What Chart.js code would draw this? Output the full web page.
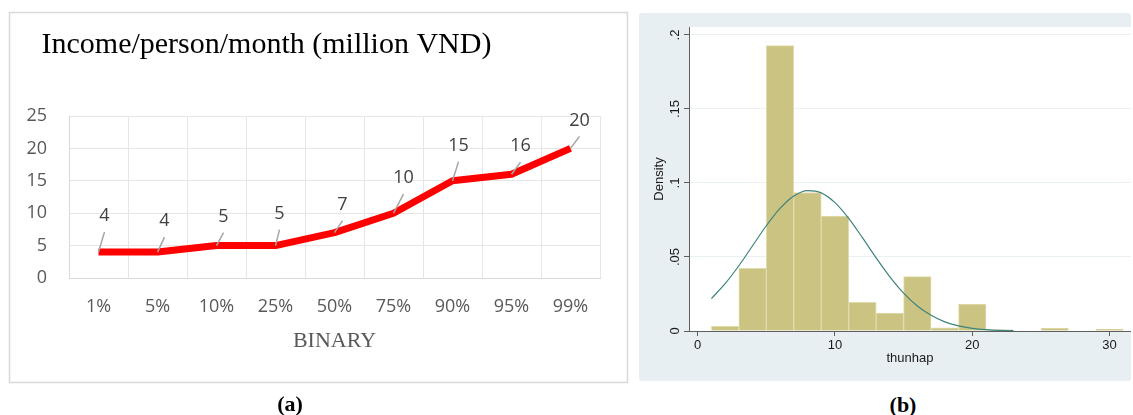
<!DOCTYPE html>
<html>
<head>
<meta charset="utf-8">
<script src="https://cdn.jsdelivr.net/npm/chart.js@4.4.1/dist/chart.umd.min.js"></script>
<style>
  html, body { margin: 0; padding: 0; background: #fff; width: 1133px; height: 415px; overflow: hidden; }
  #wrapA { position: absolute; left: 0; top: 0; width: 634px; height: 415px; }
  #wrapB { position: absolute; left: 639px; top: 13px; width: 492px; height: 368px; background: #e8eff2; border-radius: 3px; }
  .cap { position: absolute; font-family: "Liberation Serif", "Times New Roman", serif; font-weight: bold;
         font-size: 22px; color: #000; transform: translate(-50%, -50%); white-space: nowrap; }
</style>
</head>
<body>
<div id="wrapA"><canvas id="chartA"></canvas></div>
<div id="wrapB"><canvas id="chartB"></canvas></div>
<div class="cap" style="left:290px; top:404px;">(a)</div>
<div class="cap" style="left:903px; top:405px;">(b)</div>

<script>
// ---- Panel (a): income by percentile ----
const percentiles = ['1%', '5%', '10%', '25%', '50%', '75%', '90%', '95%', '99%'];
const incomeMillionVND = [4, 4, 5, 5, 7, 10, 15, 16, 20];
const incomeTicks = [0, 5, 10, 15, 20, 25];

// ---- Panel (b): histogram of thunhap with fitted normal density ----
const binEdges = [1, 3, 5, 7, 9, 11, 13, 15, 17, 19, 21, 23, 25, 27, 29, 31];
const binDensity = [0.0031, 0.0423, 0.1928, 0.0936, 0.0776, 0.0193, 0.0121, 0.0367,
                    0.0022, 0.0182, 0.0008, null, 0.0020, null, 0.0011];
const curveX = [1, 2, 3, 4, 5, 6, 7, 8, 9, 10, 11, 12, 13, 14, 15, 16, 17, 18, 19, 20, 21, 22, 23];
const curveDensity = [0.0219, 0.0320, 0.0441, 0.0576, 0.0711, 0.0828, 0.0912, 0.0949, 0.0933,
                      0.0867, 0.0761, 0.0631, 0.0494, 0.0366, 0.0256, 0.0169, 0.0106, 0.0062,
                      0.0035, 0.0018, 0.0009, 0.0004, 0.0002];
const densityTicks = [0, 0.05, 0.1, 0.15, 0.2];
const densityTickLabels = ['0', '.05', '.1', '.15', '.2'];
const thunhapTicks = [0, 10, 20, 30];

// label placement (pixels) relative to each point: [dx, dy]
const labelNudge = [[6, -36], [7, -31], [7, -29], [4, -32], [8, -28], [10, -35], [6, -35], [9, -28], [9, -28]];

const panelAFrame = {
  id: 'panelAFrame',
  beforeDraw(chart) {
    const c = chart.ctx;
    c.save();
    c.strokeStyle = '#d9d9d9';
    c.lineWidth = 1.5;
    c.strokeRect(9.5, 12.5, 618, 370);
    c.fillStyle = '#000';
    c.font = '30px "Liberation Serif", "Times New Roman", serif';
    c.textBaseline = 'middle';
    c.textAlign = 'left';
    c.fillText('Income/person/month (million VND)', 41.5, 45);
    c.restore();
  },
  afterDatasetsDraw(chart) {
    const c = chart.ctx;
    const pts = chart.getDatasetMeta(0).data;
    c.save();
    c.font = '18px "Open Sans", sans-serif';
    c.textAlign = 'center';
    c.textBaseline = 'middle';
    pts.forEach((p, i) => {
      const [dx, dy] = labelNudge[i];
      c.strokeStyle = '#a6a6a6';
      c.lineWidth = 1.5;
      c.beginPath();
      c.moveTo(p.x, p.y);
      c.lineTo(p.x + dx, p.y + dy + 16);
      c.stroke();
      c.fillStyle = '#404040';
      c.fillText(String(incomeMillionVND[i]), p.x + dx, p.y + dy);
    });
    c.restore();
  }
};

new Chart(document.getElementById('chartA'), {
  type: 'line',
  data: {
    labels: percentiles,
    datasets: [{
      data: incomeMillionVND,
      borderColor: '#ff0000',
      borderWidth: 7,
      borderCapStyle: 'butt',
      borderJoinStyle: 'round',
      pointRadius: 0,
      tension: 0,
      fill: false
    }]
  },
  options: {
    responsive: true,
    maintainAspectRatio: false,
    animation: false,
    layout: { padding: { top: 116, right: 34, left: 0, bottom: 0 } },
    plugins: { legend: { display: false }, tooltip: { enabled: false } },
    scales: {
      x: {
        type: 'category',
        offset: true,
        grid: { offset: true, color: '#e6e6e6', lineWidth: 1, drawTicks: false },
        border: { color: '#d9d9d9', width: 1 },
        ticks: { font: { family: 'Open Sans', size: 18 }, color: '#595959', padding: 18, maxRotation: 0 },
        title: {
          display: true, text: 'BINARY', color: '#595959',
          font: { family: '"Liberation Serif", "Times New Roman", serif', size: 22 },
          padding: { top: 0, bottom: 61 }
        },
        afterFit(scale) { scale.height = 137; }
      },
      y: {
        min: 0, max: 25,
        afterBuildTicks(scale) { scale.ticks = incomeTicks.map(v => ({ value: v })); },
        grid: { color: '#e6e6e6', lineWidth: 1, drawTicks: false },
        border: { color: '#d9d9d9', width: 1 },
        ticks: { font: { family: 'Open Sans', size: 18 }, color: '#595959', padding: 22 },
        afterFit(scale) { scale.width = 69; }
      }
    }
  },
  plugins: [panelAFrame]
});

// ---- Panel (b) ----
const plotRegion = {
  id: 'plotRegion',
  beforeDraw(chart) {
    const a = chart.chartArea;
    const c = chart.ctx;
    c.save();
    c.fillStyle = '#ffffff';
    c.fillRect(a.left, a.top, a.right - a.left, a.bottom - a.top);
    c.restore();
  }
};

const histPoints = [];
binDensity.forEach((d, i) => {
  if (d !== null) histPoints.push({ x: (binEdges[i] + binEdges[i + 1]) / 2, y: d });
});
const curvePoints = curveX.map((x, i) => ({ x: x, y: curveDensity[i] }));

const stataFont = '"Liberation Sans", Arial, sans-serif';

new Chart(document.getElementById('chartB'), {
  type: 'bar',
  data: {
    datasets: [
      {
        type: 'line',
        data: curvePoints,
        borderColor: '#3f837d',
        borderWidth: 1.2,
        pointRadius: 0,
        cubicInterpolationMode: 'monotone',
        fill: false,
        order: 0
      },
      {
        type: 'bar',
        data: histPoints,
        backgroundColor: '#cbc382',
        borderColor: '#e2dcad',
        borderWidth: 1,
        barPercentage: 1,
        categoryPercentage: 1,
        order: 1
      }
    ]
  },
  options: {
    responsive: true,
    maintainAspectRatio: false,
    animation: false,
    layout: { padding: { top: 14, right: 0, left: 0, bottom: 0 } },
    plugins: { legend: { display: false }, tooltip: { enabled: false } },
    scales: {
      x: {
        type: 'linear',
        offset: false,
        min: -0.63, max: 31.56,
        afterBuildTicks(scale) { scale.ticks = thunhapTicks.map(v => ({ value: v })); },
        grid: { offset: false, drawOnChartArea: false, drawTicks: true, tickLength: 5, tickColor: '#5f5f5f' },
        border: { color: '#5f5f5f', width: 1 },
        ticks: { font: { family: stataFont, size: 13 }, color: '#1a1a1a', padding: 2, maxRotation: 0 },
        title: { display: true, text: 'thunhap', color: '#1a1a1a', font: { family: stataFont, size: 13 },
                 padding: { top: 0, bottom: 15 } },
        afterFit(scale) { scale.height = 50; }
      },
      y: {
        type: 'linear',
        min: 0, max: 0.2054,
        afterBuildTicks(scale) { scale.ticks = densityTicks.map(v => ({ value: v })); },
        grid: { color: '#eaf1f3', lineWidth: 1, drawTicks: true, tickLength: 5, tickColor: '#5f5f5f' },
        border: { color: '#5f5f5f', width: 1 },
        ticks: {
          font: { family: stataFont, size: 13 }, color: '#1a1a1a', padding: 0,
          minRotation: 90, maxRotation: 90, crossAlign: 'center',
          callback: (v) => densityTickLabels[densityTicks.indexOf(v)]
        },
        title: { display: true, text: 'Density', color: '#1a1a1a', font: { family: stataFont, size: 13 },
                 padding: { top: 13, bottom: 0 } },
        afterFit(scale) { scale.width = 50; }
      }
    }
  },
  plugins: [plotRegion]
});
</script>
</body>
</html>
